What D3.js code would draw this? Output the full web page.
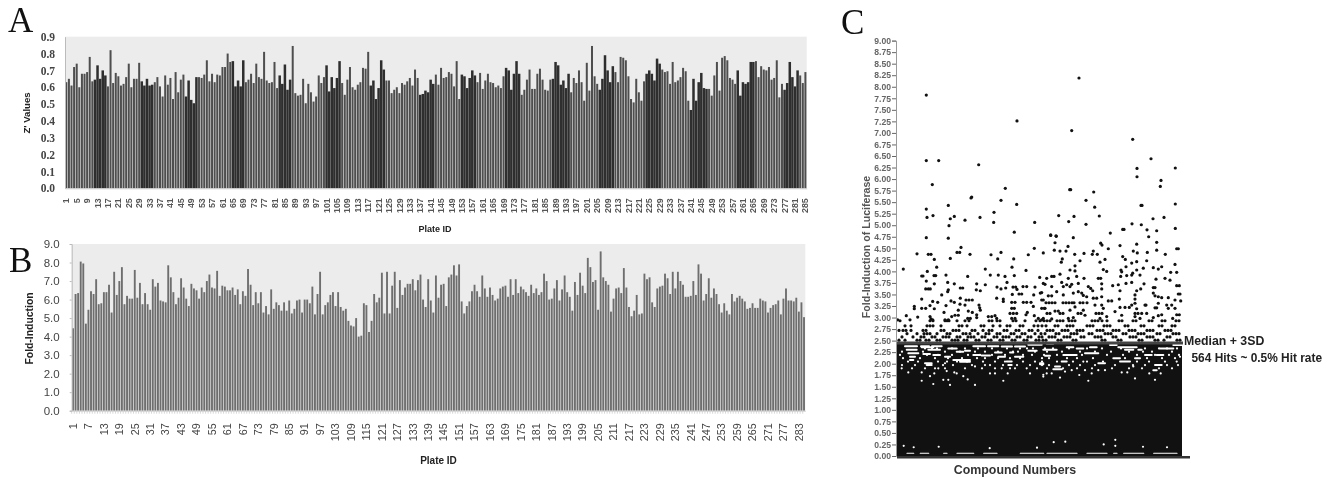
<!DOCTYPE html>
<html><head><meta charset="utf-8">
<script src="https://cdnjs.cloudflare.com/ajax/libs/d3/7.8.5/d3.min.js"></script>
<style>
html,body{margin:0;padding:0;background:#fff;overflow:hidden}
svg{display:block;filter:blur(0.45px)}
text{font-family:"Liberation Sans",Arial,sans-serif}
</style></head><body>
<svg id="c" width="1333" height="478"></svg>
<script>
const zValues=[.63,.65,.61,.72,.74,.60,.68,.68,.69,.78,.635,.645,.73,.65,.70,.67,.605,.82,.625,.685,.665,.61,.62,.66,.74,.60,.65,.65,.745,.635,.61,.65,.61,.615,.63,.66,.605,.545,.67,.615,.655,.53,.69,.57,.645,.675,.545,.64,.525,.505,.66,.66,.655,.675,.76,.635,.68,.63,.675,.67,.72,.72,.80,.75,.755,.605,.64,.605,.76,.63,.645,.68,.625,.74,.66,.65,.81,.64,.625,.63,.75,.595,.67,.62,.735,.585,.645,.845,.565,.55,.555,.65,.505,.62,.57,.515,.545,.67,.625,.66,.73,.575,.66,.595,.655,.755,.625,.555,.645,.72,.60,.585,.615,.63,.715,.71,.81,.61,.64,.53,.595,.76,.705,.64,.64,.565,.585,.60,.565,.625,.615,.635,.655,.61,.705,.655,
.555,.56,.58,.57,.645,.62,.675,.615,.715,.655,.66,.69,.68,.605,.755,.53,.675,.665,.595,.655,.70,.67,.63,.685,.59,.64,.68,.63,.625,.60,.61,.595,.665,.715,.70,.585,.68,.755,.68,.555,.585,.645,.705,.59,.59,.68,.71,.645,.585,.58,.645,.65,.75,.73,.615,.64,.595,.68,.57,.655,.625,.70,.63,.52,.745,.58,.845,.665,.62,.585,.65,.79,.70,.63,.725,.69,.63,.78,.775,.76,.665,.53,.51,.65,.57,.52,.635,.68,.70,.68,.64,.77,.74,.705,.69,.695,.62,.75,.63,.64,.66,.715,.695,.52,.465,.65,.52,.63,.685,.595,.59,.59,.55,.67,.75,.58,.775,.785,.76,.655,.645,.62,.70,.55,.63,.62,.63,.75,.75,.755,.66,.725,.705,.70,.72,.645,.655,.76,.54,.62,.585,.625,.75,.66,.605,.70,.67,.625,.69];
const zDarkRuns=[[12,16],[30,34],[47,51],[65,69],[83,87],[101,106],[118,123],[137,142],[153,158],[170,175],[188,194],[206,211],[224,229],[241,247],[259,265],[277,282]];
const zTicks=[.0,.1,.2,.3,.4,.5,.6,.7,.8,.9];
const foldValues=[4.45,6.3,6.35,8.05,7.95,4.7,5.45,6.45,6.3,7.1,5.75,5.8,6.4,6.4,6.8,5.3,7.5,6.25,7.0,7.75,5.75,6.2,6.05,6.05,7.6,6.1,6.9,5.75,6.35,5.75,5.45,7.1,6.7,6.9,5.95,5.9,5.85,7.85,7.2,6.4,5.75,6.1,7.15,6.65,6.05,5.65,6.85,6.6,6.5,6.05,6.65,6.4,7.0,7.35,6.65,6.6,7.55,6.2,6.75,6.7,6.5,6.5,6.65,6.25,6.55,5.75,6.45,6.2,7.65,6.8,5.7,6.4,5.8,6.4,5.3,5.65,5.2,6.55,5.5,5.85,5.7,5.4,5.85,5.4,5.95,5.25,5.5,5.95,6.0,5.3,6.0,6.0,5.8,6.7,5.2,6.3,7.5,5.2,5.7,5.85,6.25,6.4,5.65,6.4,5.6,5.4,5.5,4.85,4.6,4.55,5.0,4.0,4.05,5.8,5.7,4.25,4.85,6.3,5.85,6.1,7.45,5.25,7.5,5.25,6.75,7.5,5.55,7.05,6.25,6.65,6.85,6.85,7.1,6.5,7.05,7.35,
6.0,5.6,7.1,5.95,5.3,7.3,6.1,6.8,6.85,5.65,7.2,7.35,7.85,7.3,7.9,5.9,5.25,5.65,5.9,6.45,6.8,6.45,6.15,7.3,6.6,6.15,6.65,6.25,5.95,6.05,6.6,6.7,6.75,6.15,7.1,6.25,7.1,6.35,6.7,6.55,6.4,6.2,6.8,6.35,6.6,6.25,6.4,7.4,7.0,6.0,6.05,6.6,7.05,5.95,6.55,7.3,6.4,6.15,5.4,6.95,6.25,7.45,6.75,6.35,8.25,7.75,6.95,7.05,5.45,8.6,7.2,7.0,6.8,5.35,6.05,6.6,6.65,6.35,7.7,6.65,5.6,5.1,5.4,6.25,5.2,5.25,7.4,7.1,7.2,5.85,5.6,6.6,6.7,6.75,7.4,7.15,6.3,7.5,6.6,7.5,7.0,6.8,6.15,6.15,6.2,7.0,6.25,7.9,7.4,5.95,6.3,7.15,6.1,6.6,6.3,5.75,5.3,5.8,5.4,5.2,6.3,5.9,6.1,6.2,6.05,5.9,5.5,5.55,5.8,5.55,5.55,6.05,5.95,5.9,5.3,5.55,5.7,5.75,5.95,5.2,6.05,6.6,5.95,5.95,5.9,6.1,5.35,5.85,5.05];
const foldTicks=[0,1,2,3,4,5,6,7,8,9];
const lucTicks=d3.range(0,37).map(i=>i*0.25);
const cutoff=2.45, denseTop=2.43;
const hitPoints=[[29.3,7.82],[120,7.26],[29.3,6.4],[41.7,6.4],[81.7,6.31],[35.3,5.88],[108.3,5.8],[74.7,5.61],[74,5.59],[104,5.54],[51.3,5.43],[119.7,5.45],[29.3,5.35],[97,5.28],[30,5.17],[36,5.21],[53.3,5.14],[57.3,5.19],[68,5.11],[83,5.17],[96.7,5.06],[52,4.99],[117.3,4.85],[29.3,4.73],[51.3,4.72],
[182,8.19],[174.7,7.05],[235.7,6.86],[254,6.44],[240,6.23],[278.3,6.24],[240,6.05],[264,5.97],[263.3,5.84],[172.7,5.77],[173.7,5.77],[196.7,5.72],[189,5.54],[244,5.43],[245,5.43],[278.3,5.46],[197.7,5.39],[161.7,5.21],[177,5.19],[202.3,5.2],[256,5.14],[267,5.17],[137.7,5.06],[171.7,5.08],[189,5.02],[235,5.03],[244.3,5.01],[225.7,4.91],[227,4.91],[250,4.9],[259.7,4.88],[278.3,4.93],[213.3,4.83],[153.7,4.78],[159.3,4.76],[176.3,4.73],[251.7,4.75],
[64,4.52],[60,4.41],[62.7,4.41],[137.3,4.5],[104,4.41],[20,4.38],[31.3,4.37],[34,4.37],[73,4.37],[94,4.36],[131.3,4.36],[146.3,4.4],[37.3,4.26],[53.3,4.28],[100.7,4.27],[116.7,4.27],[39.7,4.09],[6.3,4.05],[115,4.09],[88.3,4.05],[129,4.02],[30.3,4],[24.7,3.9],[26,3.9],[37,3.91],[38.7,3.91],[49,3.92],[70.7,3.89],[93.3,3.92],[101.3,3.92],[108,3.89],[117.3,3.91],[142.7,3.87],[29.3,3.79],[37.3,3.73],[50.7,3.76],[57.3,3.73],[79.7,3.73],[88.3,3.71],[110,3.76],[146.3,3.74],[28.7,3.62],[31.3,3.62],[33.3,3.62],[63.3,3.64],[65.7,3.64],[51.3,3.6],[79.3,3.6],[100,3.66],[104,3.62],[108.7,3.64],[116,3.66],[118.7,3.66],[120,3.61],[126,3.67],[129.7,3.67],[138,3.66],[83.3,3.58],[44.7,3.49],[50.7,3.56],[115.3,3.5],[122,3.51],[124.7,3.51],[136.7,3.49],[143.3,3.53],[24.7,3.4],[63.3,3.42],[69,3.38],[72,3.38],[75.3,3.38],[54,3.36],[57.3,3.33],[99.7,3.42],[106.3,3.4],[106.3,3.35],[35.7,3.35],[40.7,3.33],[114.7,3.33],[118,3.33],[126.3,3.33],[129.7,3.33],[134,3.33],[144.7,3.38],[146.3,3.38],[68,3.27],[63,3.29],[17.3,3.24],[17.3,3.19],[33,3.26],[49,3.26],[24.7,3.2],[28.7,3.2],[37.3,3.19],[82,3.27],[82.7,3.21],[83.3,3.16],[114.7,3.2],[117.3,3.2],[136.3,3.24],[144.7,3.2],[147.3,3.2],[47,3.11],[61.3,3.16],[75.3,3.11],[71.3,3.14],[58,3.05],[61.3,3.05],[113,3.09],[116.3,3.09],[119.7,3.09],[130.3,3.11],[129,3.06],[9.3,3.04],[20.7,3.01],[33,3.02],[34,2.97],[35.7,2.95],[48,2.95],[51.3,2.95],[54.7,3.02],[79.7,3.06],[79.7,3],[70.7,2.98],[73.3,2.98],[91.3,3.02],[94.7,3.02],[98,3.04],[99.7,2.98],[114.7,2.98],[118,2.98],[137.3,3.04],[141.3,2.98],[144.7,2.95],[.7,2.95],[13,2.95],
[153.7,4.79],[159,4.77],[158,4.62],[203.7,4.61],[205,4.57],[223,4.56],[239.7,4.59],[259.7,4.63],[171,4.54],[157.3,4.46],[163,4.44],[169,4.44],[196.3,4.44],[195.3,4.37],[211.3,4.49],[236.3,4.44],[240.3,4.4],[250.3,4.41],[259.7,4.46],[279.7,4.49],[281.3,4.49],[177.7,4.37],[187,4.39],[200.3,4.37],[268.3,4.37],[225.7,4.32],[228.3,4.26],[165.3,4.27],[164.3,4.2],[183,4.23],[208,4.26],[203,4.2],[239.7,4.21],[234.7,4.18],[249.7,4.23],[178,4.12],[206.3,4.04],[209.7,4],[229,4.1],[224,4.03],[224.7,3.99],[239.7,4.03],[246.3,4.07],[235.7,3.96],[256.3,4.08],[264.7,4.1],[261.3,4.05],[278,4.15],[273.7,3.98],[279.7,3.98],[173,4.03],[178,4.01],[163,3.94],[154.7,3.89],[157,3.89],[149.7,3.85],[171.3,3.85],[179.7,3.89],[187,3.85],[201.3,3.85],[203.7,3.85],[223.7,3.89],[229.7,3.91],[234.7,3.92],[243,3.92],[259,3.83],[268,3.85],[273,3.81],[164.7,3.76],[169.7,3.71],[174.7,3.72],[181.3,3.74],[148,3.72],[204.7,3.73],[215.7,3.69],[221.3,3.71],[229,3.74],[234.7,3.76],[247,3.73],[279.7,3.69],[282.3,3.69],[154.7,3.67],[166.3,3.67],[173,3.67],[191.3,3.67],[193.7,3.63],[204.7,3.62],[243.7,3.62],[239.7,3.58],[256.3,3.65],[258,3.65],[195.7,3.58],[223,3.58],[144.7,3.54],[159.7,3.56],[176.3,3.53],[181.3,3.56],[184.7,3.53],[166.3,3.49],[151.3,3.47],[154.7,3.47],[186.3,3.48],[189.7,3.45],[238,3.49],[256.3,3.53],[258,3.47],[261.3,3.45],[264.7,3.43],[281.3,3.51],[283,3.51],[196.3,3.42],[199.7,3.42],[204.7,3.45],[222.3,3.4],[238,3.4],[271.3,3.43],[278,3.38],[283.7,3.36],[198,3.27],[204.7,3.27],[211.3,3.36],[214.7,3.36],[238,3.31],[234.7,3.27],[249,3.27],[261.3,3.31],[274.7,3.27],[269.7,3.27],[148,3.2],[158,3.14],[161.3,3.14],[178,3.23],[186.3,3.16],[206.3,3.2],[223,3.22],[228,3.22],[232.3,3.22],[259.7,3.21],[258,3.21],[278,3.2],[271.3,3.2],[173,3.16],[188,3.05],[218,3.13],[239.7,3.19],[244.7,3.09],[248,3.27],[264.7,3.06],[279.7,3.06],[282.3,3.06],[146.3,2.98],[154.7,2.97],[171.3,2.98],[176.3,3],[203,2.98],[209.7,3.02],[224.7,3.05],[238,3.02],[243,2.98],[249.7,3.09],[256.3,3],[261.3,3.04],[275.7,2.98]];
const hitRows=[
[3.32,[149,152,155,158,166,169,172,175,177,183,186,190]],
[3.09,[150,153,163,166,181,184,199,202,205,238,241]],
[2.93,[3,33,36,48,50,52,60,68,72,92,95,100,103,116,119,128,139,143,147,150,153,160,163,166,172,175,178,195,198,201,205,210,222,225,236,239,252,255,265,268,279,282]],
[2.82,[8,14,30,33,36,44,62,65,70,84,87,96,103,110,113,123,126,137,141,145,149,158,161,170,173,176,190,193,196,207,210,213,228,231,244,247,262,265,275,278]],
[2.72,[2,6,9,14,26,29,44,47,56,59,62,75,78,86,92,95,107,110,119,122,132,135,141,150,153,156,165,168,171,180,183,186,200,203,206,216,219,222,232,235,238,250,253,256,268,271,274]],
[2.65,[10,20,27,30,33,40,50,53,66,69,73,81,89,92,100,103,114,117,125,128,138,144,148,159,162,174,177,180,192,195,208,211,214,226,229,241,244,247,260,263,276,279,282]],
[2.58,[5,16,24,27,35,38,46,49,52,60,63,71,74,77,85,88,97,100,106,109,112,120,123,131,134,142,145,152,155,158,167,170,173,184,187,198,201,204,216,219,233,236,239,250,253,256,270,273]],
[2.51,[2,8,20,23,29,32,40,43,55,58,61,67,70,79,82,91,94,103,106,115,118,127,130,139,142,146,149,161,164,176,179,205,208,221,224,242,245,258,261,267,280,283]]];
const gapRuns=[[8,20,2.38],[24,32,2.38],[35,44.7,2.38],[76.3,88,2.38],[91,101.3,2.38],[104.7,115,2.37],[118,128,2.37],[131.3,144.7,2.41],[9.7,19.7,2.3],[11.3,21.3,2.225],[13,18,2.15],[13,16.3,2.08],[24.7,36.3,2.355],[31.3,43,2.3],[26.3,33,2.21],[36.3,43,2.19],[28,34.7,2.01],[51.3,59.7,2.33],[48,53,2.15],[59.7,66.3,2.26],[68,73,2.28],[56.3,73,2.08],[63,73,2.04],[76.3,83,2.19],[84.7,93,2.175],[98,104.7,2.24],[113,116.3,2.24],[101.3,108,2.15],[109.7,114.7,2.045],[111.3,114.7,1.97],[131.3,139.7,2.28],[118,126.3,2.15],[29.7,34.7,1.97],[143,146.3,2.01],
[146.3,159.7,2.3],[166.3,179.7,2.19],[188,201.3,2.225],[193,199.7,2.355],[169.7,176.3,2.355],[179.7,186.3,2.33],[213,219.7,2.405],[221.3,239.7,2.355],[228,236.3,2.3],[241.3,244.7,2.3],[248,254.7,2.19],[259.7,266.3,2.19],[276.3,284.7,2.405],[263,276.3,2.33],[216.3,223,2.12],[223,233,2.045],[238,243,2.12],[201.3,208,2.01],[258,264.7,1.97],[256.3,259.7,1.86],[158,163,1.94],[156.3,164.7,1.88],[164.7,169.7,2.045],[143,146.3,1.99],[148,153,2.17],[149.7,156.3,2.44]];
const floorGaps=[[10,16.7,.06],[23.3,31.7,.06],[46.7,50,.06],[60,76.7,.06],[86.7,100,.06],[123.3,146.7,.06],[150,180,.06],[190,210,.06],[216.7,220,.06],[226.7,246.7,.06],[256.7,280,.06]];
const gapSpecks=[[11.3,1.81],[24.7,1.81],[33,1.73],[37.3,1.79],[49.7,1.84],[57.3,1.81],[66.3,1.73],[70.7,1.66],[36.3,1.56],[51.3,1.65],[24.7,1.63],[98,1.79],[110.7,1.79],[118,1.9],[129.7,1.9],[133,1.79],[106.3,1.63],[78,1.54],[53,1.54],[46.3,1.65],[93,1.79],[4.7,1.9],[41.3,1.9],[48,2.01],[78,1.94],[88,1.97],[104.7,1.9],[146.3,1.76],[59.7,1.79],[38,1.9],[154.7,1.79],[168,1.83],[146.3,1.72],[149.7,1.79],[163,1.7],[174.7,1.86],[188,1.86],[194.7,1.79],[182.3,1.755],[191.3,1.63],[201.3,1.86],[208,1.86],[224.7,1.81],[230.3,1.81],[238,1.68],[252.3,1.79],[263.7,1.79],[258,1.65],[236.3,1.94],[279.7,2.045],[186.3,2.045],[283,2.15],[6.7,.22],[16.7,.19],[41.7,.2],[92.7,.17],[140,.18],[156.7,.3],[168.3,.31],[218.3,.35],[218.3,.22],[246,.2],[270,.19],[206.7,.25]];
const gapRows=[
[2.33,[28,35,40,55,68,81,95,110,123,130,136,148,156,172,190,205,224,248,262,270,280]],
[2.26,[5,26,48,63,78,88,101,116,121,138,150,165,183,198,214,232,246,255,275]],
[2.19,[3,30,41,55,71,83,95,108,126,135,147,160,185,210,226,240,258,272,282]],
[2.12,[6,23,38,51,65,80,88,101,113,123,145,152,170,180,196,228,250,265,278]],
[2.045,[11,21,41,50,60,70,86,98,108,126,138,145,160,176,190,206,240,252,268]],
[1.97,[5,18,31,46,56,75,93,106,120,133,145,152,172,183,198,218,236,248,270,281]],
[1.9,[15,28,48,68,85,98,113,140,150,166,180,195,215,232,245,262,275]]];

const svg=d3.select("#c");
const ink="#444";
function letter(t,x,y){svg.append("text").attr("x",x).attr("y",y).text(t).style("font-family","'Liberation Serif',serif").style("font-size","35px").attr("fill","#111");}
letter("A",8,32);letter("B",9,272);letter("C",841,34);

function barPanel(o){
  const ids=o.values.map((_,i)=>i+1);
  const x=d3.scaleBand().domain(ids).range(o.xr);
  const y=d3.scaleLinear().domain(o.yd).range(o.yr);
  svg.append("rect").attr("x",o.xr[0]).attr("width",o.xr[1]-o.xr[0]).attr("y",o.yr[1]).attr("height",o.yr[0]-o.yr[1]).attr("fill","#ececec");
  const isDark=i=>o.dark&&o.dark.some(r=>i>=r[0]&&i<=r[1]);
  svg.append("g").selectAll("rect").data(o.values).join("rect")
    .attr("x",(d,i)=>x(i+1)+(isDark(i+1)?0.05:o.inset))
    .attr("width",(d,i)=>x.bandwidth()-(isDark(i+1)?0.1:o.inset*2))
    .attr("y",d=>y(d)).attr("height",d=>o.yr[0]-y(d))
    .attr("fill",(d,i)=>isDark(i+1)?"#2e2e2e":o.fill);
  if(o.allTicks){svg.append("g").selectAll("line").data(ids).join("line")
    .attr("x1",d=>x(d)).attr("x2",d=>x(d)).attr("y1",o.yr[0]).attr("y2",o.yr[0]+3).attr("stroke","#ccc").attr("stroke-width",.8);}
  const gy=svg.append("g").attr("transform",`translate(${o.xr[0]},0)`)
    .call(d3.axisLeft(y).tickValues(o.yTicks).tickFormat(d3.format(".1f")).tickSize(o.tick).tickPadding(o.pad));
  gy.select(".domain").attr("stroke","#bbb");gy.selectAll("line").attr("stroke","#bbb");
  gy.selectAll("text").attr("fill",ink).style("font-size",o.yfs+"px").style("font-weight",o.ybold?"bold":"normal").style("font-family",o.yfont||"'Liberation Sans'");
  const gx=svg.append("g").attr("transform",`translate(0,${o.yr[0]})`)
    .call(d3.axisBottom(x).tickValues(ids.filter(i=>(i-1)%o.step===0)).tickSize(0).tickPadding(0));
  gx.select(".domain").attr("stroke","#ccc");
  gx.selectAll("text").attr("transform",`translate(0,${o.xlabY}) rotate(-90)`).attr("text-anchor","end").attr("dy","0.35em").attr("y",0).attr("x",0)
    .attr("fill",o.ybold?"#555":ink).style("font-size",o.xfs+"px").style("font-weight",o.ybold?"bold":"normal");
  svg.append("text").attr("x",o.title[0]).attr("y",o.title[1]).attr("text-anchor","middle").text("Plate ID").attr("fill","#222").style("font-size",o.tfs+"px").style("font-weight","bold");
  svg.append("text").attr("transform",`translate(${o.ytitle[0]},${o.ytitle[1]}) rotate(-90)`).attr("text-anchor","middle").text(o.ylabel).attr("fill","#222").style("font-size",o.ytfs+"px").style("font-weight","bold");
}
barPanel({values:zValues,dark:zDarkRuns,xr:[65,806.7],yd:[0,.9],yr:[188.3,36.7],yTicks:zTicks,fill:"#4e4e4e",inset:.3,tick:0,pad:10,yfs:11.5,ybold:true,yfont:"'Liberation Serif'",step:4,xlabY:10,xfs:8.8,title:[435,232],tfs:9,ytfs:9.6,ytitle:[30,113],ylabel:"Z' Values"});
barPanel({values:foldValues,xr:[71.7,805.3],yd:[0,9],yr:[410.7,244],yTicks:foldTicks,fill:"#6e6e6e",inset:.35,allTicks:true,tick:2,pad:10,yfs:11.5,ybold:false,step:6,xlabY:12.6,xfs:10.8,title:[438.5,464],tfs:10,ytfs:10.4,ytitle:[33,328.5],ylabel:"Fold-Induction"});

// panel C
const cx=d3.scaleLinear().domain([0,285]).range([897,1182]);
const cy=d3.scaleLinear().domain([0,9]).range([456,40.6]);
const g=svg.append("g");
g.append("rect").attr("x",cx(0)).attr("width",cx(285)-cx(0)).attr("y",cy(denseTop)).attr("height",cy(0)-cy(denseTop)).attr("fill","#111");
const run=(cls,data,w)=>g.selectAll("line."+cls).data(data).join("line").attr("class",cls)
 .attr("x1",d=>cx(d[0])).attr("x2",d=>cx(d[1])).attr("y1",d=>cy(d[2])).attr("y2",d=>cy(d[2])).attr("stroke","#fff").attr("stroke-width",w).attr("stroke-linecap","round");
run("gap",gapRuns,2);run("floor",floorGaps,1.2);
const specks=gapSpecks.concat(gapRows.flatMap(r=>r[1].map(x=>[x,r[0]])));
g.selectAll("circle.sp").data(specks).join("circle").attr("class","sp").attr("cx",d=>cx(d[0])).attr("cy",d=>cy(d[1])).attr("r",1.1).attr("fill","#fff");
const hits=hitPoints.concat(hitRows.flatMap(r=>r[1].map(x=>[x,r[0]])));
g.selectAll("circle.hit").data(hits).join("circle").attr("class","hit").attr("cx",d=>cx(d[0])).attr("cy",d=>cy(d[1])).attr("r",1.6).attr("fill","#111");
const ay=svg.append("g").attr("transform",`translate(${cx(0)-1},0)`).call(d3.axisLeft(cy).tickValues(lucTicks).tickFormat(d3.format(".2f")).tickSize(4).tickPadding(1));
ay.select(".domain").attr("stroke","#999");ay.selectAll("line").attr("stroke","#666");
ay.selectAll("text").attr("fill","#666").style("font-size","8.6px").style("font-weight","bold");
svg.append("line").attr("x1",cx(0)).attr("x2",cx(285)+1).attr("y1",cy(cutoff)).attr("y2",cy(cutoff)).attr("stroke","#444").attr("stroke-width",3);
svg.append("rect").attr("x",cx(0)).attr("width",cx(285)+8-cx(0)).attr("y",cy(0)).attr("height",2.5).attr("fill","#333");
svg.append("text").attr("transform",`translate(870,247) rotate(-90)`).attr("text-anchor","middle").text("Fold-Induction of Luciferase").attr("fill","#555").style("font-size","10.6px").style("font-weight","bold");
svg.append("text").attr("x",1015).attr("y",474).attr("text-anchor","middle").text("Compound Numbers").attr("fill","#333").style("font-size","12.4px").style("font-weight","bold");
svg.append("text").attr("x",1184).attr("y",345).text("Median + 3SD").attr("fill","#222").style("font-size","12.3px").style("font-weight","bold");
svg.append("text").attr("x",1191.5).attr("y",361.5).text("564 Hits ~ 0.5% Hit rate").attr("fill","#222").style("font-size","11.9px").style("font-weight","bold");
</script></body></html>
